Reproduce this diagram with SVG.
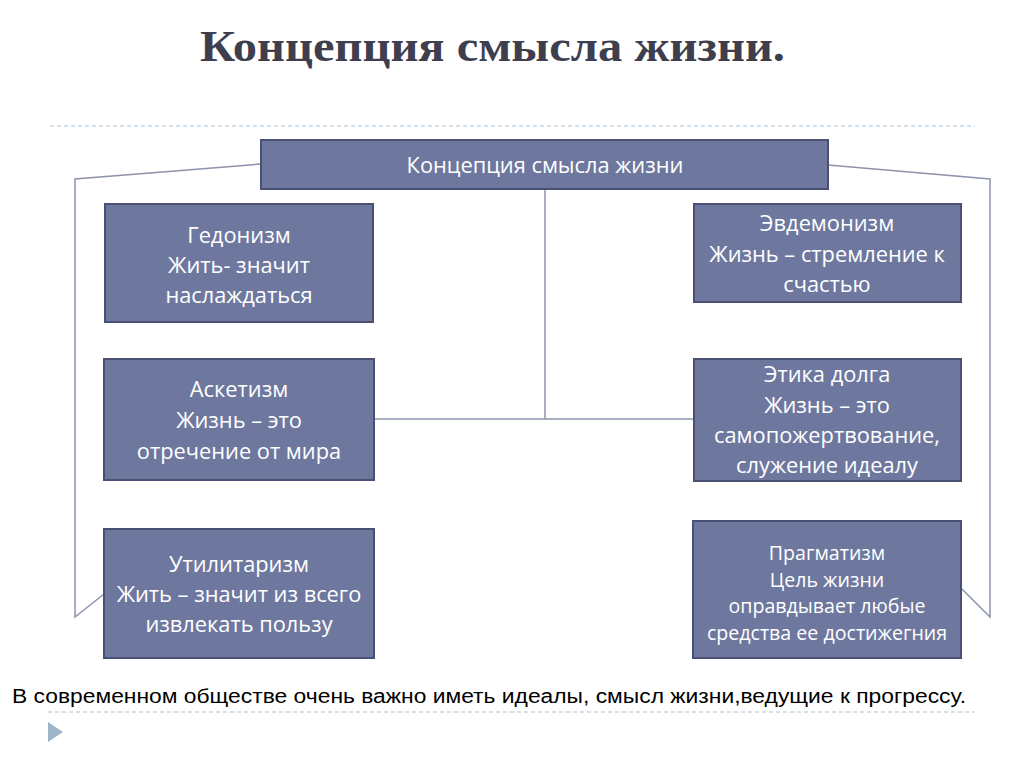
<svg xmlns="http://www.w3.org/2000/svg" width="1024" height="767" viewBox="0 0 1024 767">
<style>
.box{fill:#6e789f;stroke:#4a5073;stroke-width:2}
.t{font-family:"Open Sans","Noto Sans","DejaVu Sans",sans-serif;fill:#ffffff;text-anchor:middle;font-size:21.8px}
.ts{font-size:19.6px}
.c{fill:none;stroke:#8e93ad;stroke-width:1.5}
.dash{stroke:#a9c4d6;stroke-width:1;stroke-dasharray:4 3}
</style>
<rect width="1024" height="767" fill="#ffffff"/>
<text id="title" x="200" y="61" font-family="'Liberation Serif','DejaVu Serif',serif" font-weight="bold" font-size="45" fill="#3e3e4e" textLength="585" lengthAdjust="spacingAndGlyphs">Концепция смысла жизни.</text>
<line class="dash" x1="50" y1="126" x2="975" y2="126"/>
<line class="dash" x1="48" y1="712" x2="975" y2="712"/>
<polygon points="48,722 63,732 48,742" fill="#9fb5ca"/>
<g id="connectors">
<polyline class="c" points="261,164 75,179 75,617 104,594"/>
<polyline class="c" points="828,165 990,179 990,617 962,589"/>
<line class="c" x1="545" y1="189" x2="545" y2="419"/>
<line class="c" x1="374" y1="419" x2="694" y2="419" stroke="#a6a8ba"/>
</g>
<g id="root">
<rect class="box" x="261" y="140" width="567" height="49"/>
<text class="t" x="545" y="173">Концепция смысла жизни</text>
</g>
<g id="hedonism">
<rect class="box" x="105" y="204" width="268" height="118"/>
<text class="t" x="239" y="243">Гедонизм</text>
<text class="t" x="239" y="273">Жить- значит</text>
<text class="t" x="239" y="303">наслаждаться</text>
</g>
<g id="eudaimonism">
<rect class="box" x="694" y="204" width="267" height="98"/>
<text class="t" x="827" y="231">Эвдемонизм</text>
<text class="t" x="827" y="262">Жизнь – стремление к</text>
<text class="t" x="827" y="292">счастью</text>
</g>
<g id="asceticism">
<rect class="box" x="104" y="359" width="270" height="121"/>
<text class="t" x="239" y="397">Аскетизм</text>
<text class="t" x="239" y="428">Жизнь – это</text>
<text class="t" x="239" y="459">отречение от мира</text>
</g>
<g id="duty-ethics">
<rect class="box" x="694" y="359" width="267" height="122"/>
<text class="t" x="827" y="382">Этика долга</text>
<text class="t" x="827" y="413">Жизнь – это</text>
<text class="t" x="827" y="443">самопожертвование,</text>
<text class="t" x="827" y="473">служение идеалу</text>
</g>
<g id="utilitarianism">
<rect class="box" x="104" y="529" width="270" height="129"/>
<text class="t" x="239" y="572">Утилитаризм</text>
<text class="t" x="239" y="602">Жить – значит из всего</text>
<text class="t" x="239" y="632">извлекать пользу</text>
</g>
<g id="pragmatism">
<rect class="box" x="693" y="521" width="268" height="137"/>
<text class="t ts" x="827" y="560">Прагматизм</text>
<text class="t ts" x="827" y="587">Цель жизни</text>
<text class="t ts" x="827" y="613">оправдывает любые</text>
<text class="t ts" x="827" y="640">средства ее достижегния</text>
</g>
<text id="note" x="12" y="703" font-family="'Liberation Sans',Arial,sans-serif" font-size="20" fill="#000000" textLength="954" lengthAdjust="spacingAndGlyphs">В современном обществе очень важно иметь идеалы, смысл жизни,ведущие к прогрессу.</text>
</svg>
